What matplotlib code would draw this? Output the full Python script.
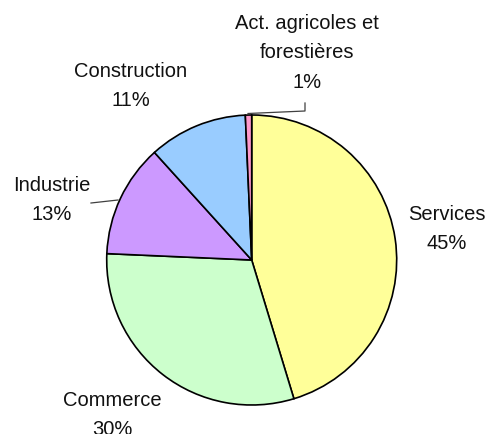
import matplotlib.pyplot as plt

plt.rcParams["font.family"] = ["Liberation Sans", "DejaVu Sans"]

SECTORS = ["Services", "Commerce", "Industrie", "Construction",
           "Act. agricoles et\nforestières"]
SHARES = [45.3, 30.4, 12.6, 11.0, 0.7]
COLORS = ["#FFFF99", "#CCFFCC", "#CC99FF", "#99CCFF", "#FF99CC"]

# pie layout in pixels of the 491x434 canvas
CX, CY, R = 251.7, 260.0, 145.0


def px(x, y):
    return (x - CX) / R, (CY - y) / R


# label centres (pixels)
LABEL_POS = [(447, 229), (112, 415), (52, 200), (131, 86), (307, 53)]


def main():
    fig = plt.figure(figsize=(4.91, 4.34), dpi=100)
    ax = fig.add_axes([0, 0, 1, 1])
    ax.axis("off")

    ax.pie(SHARES, colors=COLORS, startangle=90, counterclock=False,
           radius=1.0, wedgeprops=dict(edgecolor="black", linewidth=1.2))

    for name, share, (lx, ly) in zip(SECTORS, SHARES, LABEL_POS):
        x, y = px(lx, ly)
        ax.text(x, y, f"{name}\n{share:.0f}%", ha="center", va="center",
                fontsize=14.5, linespacing=1.72, color="#111111")

    # leader lines
    pts = [px(248, 113.5), px(305, 111), px(305, 103)]
    ax.plot([p[0] for p in pts], [p[1] for p in pts], color="#404040", lw=0.9)
    pts = [px(91, 203), px(118, 200)]
    ax.plot([p[0] for p in pts], [p[1] for p in pts], color="#404040", lw=0.9)

    x0, y0 = px(0, 0)
    x1, y1 = px(491, 434)
    ax.set_xlim(x0, x1)
    ax.set_ylim(y1, y0)
    ax.set_aspect("auto")

    fig.savefig("out.png", dpi=100)
    plt.close(fig)


if __name__ == "__main__":
    main()
